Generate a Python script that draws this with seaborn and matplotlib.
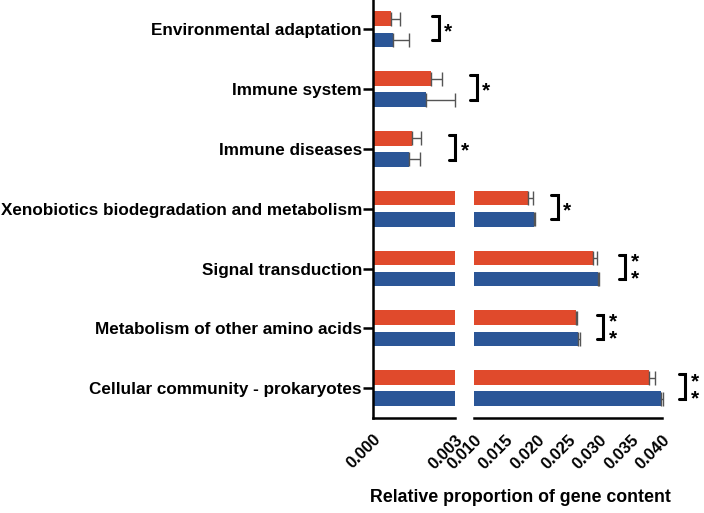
import numpy as np
import pandas as pd
import matplotlib
matplotlib.use("Agg")
import matplotlib.pyplot as plt
import seaborn as sns

sns.set_theme(style="white")
plt.rcParams["font.family"] = ["Liberation Sans", "DejaVu Sans"]
plt.rcParams["font.weight"] = "bold"
for k in ("text.color", "axes.labelcolor", "xtick.color", "ytick.color"):
    plt.rcParams[k] = "black"

categories = [
    "Environmental adaptation",
    "Immune system",
    "Immune diseases",
    "Xenobiotics biodegradation and metabolism",
    "Signal transduction",
    "Metabolism of other amino acids",
    "Cellular community - prokaryotes",
]
groups = ["Group 1", "Group 2"]
red_vals = [0.00066, 0.00212, 0.00143, 0.0186, 0.0290, 0.0263, 0.0379]
red_err = [0.00033, 0.00041, 0.00033, 0.0008, 0.0006, 0.0002, 0.0010]
blue_vals = [0.00073, 0.00194, 0.00132, 0.0196, 0.0298, 0.0266, 0.0398]
blue_err = [0.00059, 0.00106, 0.00040, 0.0001, 0.0001, 0.0003, 0.0003]
stars = ["*", "*", "*", "*", "*\n*", "*\n*", "*\n*"]
bracket_x = [0.00216, 0.00355, 0.00278, 0.0223, 0.0331, 0.0296, 0.0427]
left_ticks = [0.000, 0.003]
right_ticks = [0.010, 0.015, 0.020, 0.025, 0.030, 0.035, 0.040]
xlabel = "Relative proportion of gene content"

colors = ["#E04A2C", "#2B5697"]

df = pd.DataFrame({
    "category": categories * 2,
    "group": [groups[0]] * len(categories) + [groups[1]] * len(categories),
    "value": red_vals + blue_vals,
})
errs = {groups[0]: red_err, groups[1]: blue_err}

W, H = 704, 513
fig = plt.figure(figsize=(W / 100, H / 100), dpi=100)
ax_top, ax_bot = 0, 418
axL = fig.add_axes([373 / W, 1 - ax_bot / H, (455 - 373) / W, (ax_bot - ax_top) / H])
axR = fig.add_axes([474 / W, 1 - ax_bot / H, (662 - 474) / W, (ax_bot - ax_top) / H])

for ax in (axL, axR):
    ax.patch.set_visible(False)
    sns.barplot(data=df, x="value", y="category", hue="group", order=categories,
                hue_order=groups, palette=colors, saturation=1, orient="h",
                width=0.705, gap=0.31, errorbar=None, legend=False, ax=ax,
                edgecolor="none", linewidth=0)
    ax.set_ylim(6.5, -0.49)
    ax.set_xlabel("")
    ax.set_ylabel("")
    for s in ("top", "right"):
        ax.spines[s].set_visible(False)
    for s in ax.spines.values():
        s.set_linewidth(1.8)
        s.set_color("black")

axL.set_xlim(0, 0.003)
axR.set_xlim(0.010, 0.040)
axR.spines["left"].set_visible(False)
axR.set_yticks([])

axL.set_xticks(left_ticks)
axL.set_xticklabels([f"{t:.3f}" for t in left_ticks])
axR.set_xticks(right_ticks)
axR.set_xticklabels([f"{t:.3f}" for t in right_ticks])
for ax in (axL, axR):
    ax.tick_params(axis="x", direction="out", length=8, width=1.8, pad=2, labelsize=12)
    for lab in ax.get_xticklabels():
        lab.set_rotation(45)
        lab.set_ha("right")
        lab.set_va("top")
        lab.set_rotation_mode("anchor")
        lab.set_fontweight("bold")
axL.tick_params(axis="y", direction="out", length=7, width=1.8, pad=1, labelsize=12.3, left=True)
for lab in axL.get_yticklabels():
    lab.set_fontweight("bold")

# error bars (positive side only), positioned from the bar patches
for ax in (axL, axR):
    lo, hi = ax.get_xlim()
    bars = [p for p in ax.patches]
    n = len(categories)
    for gi, g in enumerate(groups):
        for ci in range(n):
            p = bars[gi * n + ci]
            yc = p.get_y() + p.get_height() / 2
            v = p.get_width()
            e = errs[g][ci]
            if ax is axL and v + e > hi * 1.05:
                continue
            if ax is axR and v < lo:
                continue
            ax.errorbar(v, yc, xerr=[[0], [e]], fmt="none", ecolor="#555555",
                        elinewidth=1.0, capsize=5, capthick=1.0, clip_on=False)

# significance brackets
for ci in range(len(categories)):
    ax = axL if ci < 3 else axR
    lo, hi = ax.get_xlim()
    bx = bracket_x[ci]
    px = (hi - lo) / (ax.get_position().width * W)
    y0, y1 = ci - 0.23, ci + 0.18
    ax.plot([bx, bx + 6.5 * px, bx + 6.5 * px, bx], [y0, y0, y1, y1], color="black",
            lw=2.2, clip_on=False, solid_joinstyle="miter")
    ax.text(bx + 12 * px, (y0 + y1) / 2 + 0.06, stars[ci], ha="left", va="center",
            fontsize=15, fontweight="bold", linespacing=0.85, clip_on=False)

fig.text(520 / W, 1 - 497 / H, xlabel, ha="center", va="center", fontsize=12.8,
         fontweight="bold")

fig.savefig("out.png", dpi=100)
